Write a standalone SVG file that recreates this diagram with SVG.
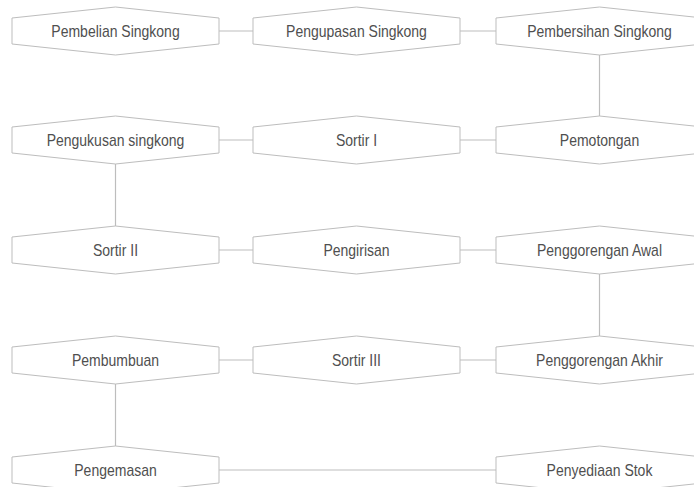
<svg xmlns="http://www.w3.org/2000/svg" width="694" height="487" viewBox="0 0 694 487">
<style>
.n polygon{fill:#ffffff;stroke:#bdbdbd;stroke-width:1}
.n text{font-family:"Liberation Sans",Arial,sans-serif;font-size:14px;fill:#4f4f4f;text-anchor:middle}
#connectors line{stroke:#bdbdbd;stroke-width:1.2}
</style>
<rect width="694" height="487" fill="#ffffff"/>
<g id="connectors">
<line x1="219" y1="31" x2="253" y2="31"/>
<line x1="460" y1="31" x2="496" y2="31"/>
<line x1="599.5" y1="55" x2="599.5" y2="116"/>
<line x1="219" y1="140" x2="253" y2="140"/>
<line x1="460" y1="140" x2="496" y2="140"/>
<line x1="115.5" y1="164" x2="115.5" y2="226"/>
<line x1="219" y1="250" x2="253" y2="250"/>
<line x1="460" y1="250" x2="496" y2="250"/>
<line x1="599.5" y1="274" x2="599.5" y2="336"/>
<line x1="219" y1="360" x2="253" y2="360"/>
<line x1="460" y1="360" x2="496" y2="360"/>
<line x1="115.5" y1="384" x2="115.5" y2="446"/>
<line x1="219" y1="470" x2="496" y2="470"/>
</g>
<g id="pembelian" class="n"><polygon points="12,18 115.5,7 219,18 219,44 115.5,55 12,44"/><text transform="translate(115.5,36.5) scale(1,1.15)">Pembelian Singkong</text></g>
<g id="pengupasan" class="n"><polygon points="253,18 356.5,7 460,18 460,44 356.5,55 253,44"/><text transform="translate(356.5,36.5) scale(1,1.15)">Pengupasan Singkong</text></g>
<g id="pembersihan" class="n"><polygon points="496,18 599.5,7 703,18 703,44 599.5,55 496,44"/><text transform="translate(599.5,36.5) scale(1,1.15)">Pembersihan Singkong</text></g>
<g id="pengukusan" class="n"><polygon points="12,127 115.5,116 219,127 219,153 115.5,164 12,153"/><text transform="translate(115.5,145.5) scale(1,1.15)">Pengukusan singkong</text></g>
<g id="sortir1" class="n"><polygon points="253,127 356.5,116 460,127 460,153 356.5,164 253,153"/><text transform="translate(356.5,145.5) scale(1,1.15)">Sortir I</text></g>
<g id="pemotongan" class="n"><polygon points="496,127 599.5,116 703,127 703,153 599.5,164 496,153"/><text transform="translate(599.5,145.5) scale(1,1.15)">Pemotongan</text></g>
<g id="sortir2" class="n"><polygon points="12,237 115.5,226 219,237 219,263 115.5,274 12,263"/><text transform="translate(115.5,255.5) scale(1,1.15)">Sortir II</text></g>
<g id="pengirisan" class="n"><polygon points="253,237 356.5,226 460,237 460,263 356.5,274 253,263"/><text transform="translate(356.5,255.5) scale(1,1.15)">Pengirisan</text></g>
<g id="gorengawal" class="n"><polygon points="496,237 599.5,226 703,237 703,263 599.5,274 496,263"/><text transform="translate(599.5,255.5) scale(1,1.15)">Penggorengan Awal</text></g>
<g id="pembumbuan" class="n"><polygon points="12,347 115.5,336 219,347 219,373 115.5,384 12,373"/><text transform="translate(115.5,365.5) scale(1,1.15)">Pembumbuan</text></g>
<g id="sortir3" class="n"><polygon points="253,347 356.5,336 460,347 460,373 356.5,384 253,373"/><text transform="translate(356.5,365.5) scale(1,1.15)">Sortir III</text></g>
<g id="gorengakhir" class="n"><polygon points="496,347 599.5,336 703,347 703,373 599.5,384 496,373"/><text transform="translate(599.5,365.5) scale(1,1.15)">Penggorengan Akhir</text></g>
<g id="pengemasan" class="n"><polygon points="12,457 115.5,446 219,457 219,483 115.5,494 12,483"/><text transform="translate(115.5,475.5) scale(1,1.15)">Pengemasan</text></g>
<g id="penyediaan" class="n"><polygon points="496,457 599.5,446 703,457 703,483 599.5,494 496,483"/><text transform="translate(599.5,475.5) scale(1,1.15)">Penyediaan Stok</text></g>
</svg>
